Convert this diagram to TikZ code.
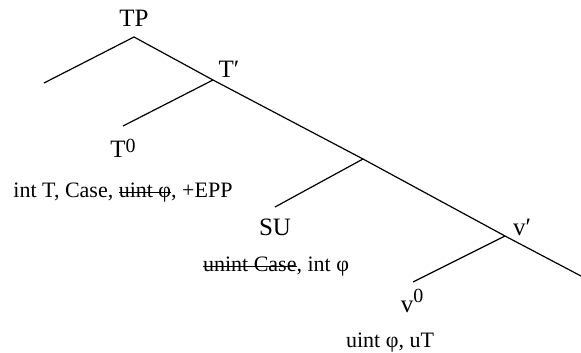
\documentclass[tikz,border=0pt]{standalone}
\usepackage{fontspec}
\setmainfont{Liberation Serif}
\usetikzlibrary{positioning}
\newsavebox{\strkbox}
\newcommand{\strk}[1]{\sbox{\strkbox}{#1}\rlap{\usebox{\strkbox}}\rule[0.24em]{\wd\strkbox}{0.5pt}}
\newcommand{\supzero}[1]{\raisebox{#1}{\fontsize{10}{11}\selectfont 0}}

\begin{document}
\begin{tikzpicture}[x=0.5pt,y=-0.5pt]
  \tikzset{every node/.style={font=\fontsize{12.5}{14}\selectfont,text centered,inner sep=0pt}};
  \tikzset{feat/.style={font=\fontsize{11}{13}\selectfont}};
  \useasboundingbox (0,0) rectangle (581,352);
  % branching points
  \coordinate (tp) at (134,37);
  \coordinate (spec) at (44,83);
  \coordinate (tbar) at (213,80);
  \coordinate (t0) at (123,126);
  \coordinate (mid) at (363,159);
  \coordinate (su) at (275,207);
  \coordinate (vbar) at (505,236);
  \coordinate (v0) at (413,282);
  \coordinate (vcomp) at (581,276);
  % branches
  \path[draw,line width=0.6pt] (spec) -- (tp) -- (tbar) -- (mid) -- (vbar) -- (vcomp);
  \path[draw,line width=0.6pt] (t0) -- (tbar);
  \path[draw,line width=0.6pt] (su) -- (mid);
  \path[draw,line width=0.6pt] (v0) -- (vbar);
  % labels
  \node (tplab) at (134,18) {TP};
  \node (tbarlab) at (229,69) {T′};
  \node[anchor=base] (t0lab) at (123,157) {T\supzero{2.5pt}};
  \node[feat] (t0feat) at (123,193) {int T, Case, \strk{uint φ}, +EPP};
  \node (sulab) at (275,227) {SU};
  \node[feat] (sufeat) at (276,267) {\strk{unint Case}, int φ};
  \node (vbarlab) at (522,227) {v′};
  \node[anchor=base] (v0lab) at (412,312) {v\supzero{5pt}};
  \node[feat] (v0feat) at (390,343) {uint φ, uT};
\end{tikzpicture}
\end{document}
